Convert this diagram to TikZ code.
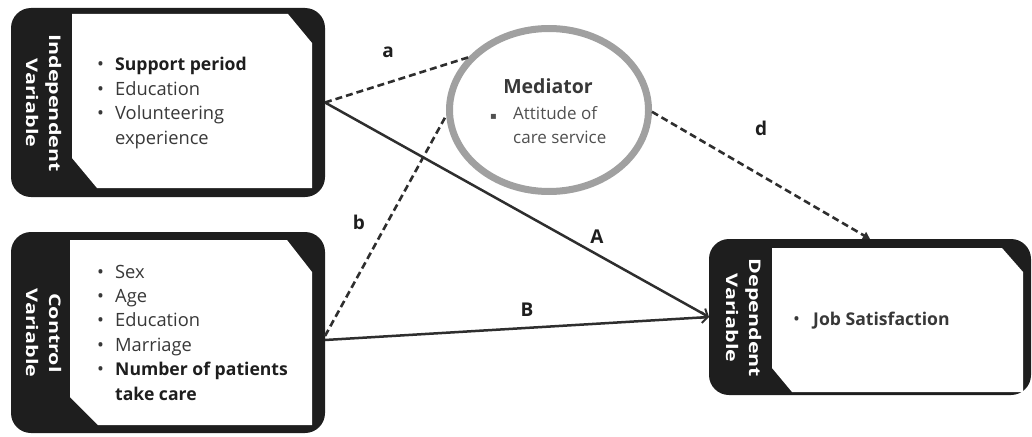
\documentclass[tikz,border=0pt]{standalone}
\usepackage{fontspec}
\setmainfont{Open Sans}
\newfontfamily\symfont{DejaVu Sans}
\usetikzlibrary{arrows.meta,shapes.geometric}
\definecolor{boxblack}{HTML}{1E1E1E}
\definecolor{txtgray}{HTML}{383838}
\definecolor{medgray}{HTML}{A0A0A0}
\definecolor{linegray}{HTML}{2E2E2E}
\definecolor{medtext}{HTML}{505050}
\begin{document}
\begin{tikzpicture}[x=1pt,y=-1pt,
  outerbox/.style={fill=boxblack, rounded corners=20pt, inner sep=0pt, outer sep=0pt},
  vartitle/.style={text=white, font=\bfseries\fontsize{16}{23}\selectfont, rotate=-90, align=center, inner sep=0pt},
  itemtext/.style={text=txtgray, font=\fontsize{18.3}{24.4}\selectfont, align=left, anchor=base west, inner sep=0pt},
  boldpart/.style={},
  pathlabel/.style={font=\bfseries\fontsize{19}{19}\selectfont, text=boxblack, inner sep=0pt},
  solidarrow/.style={draw=linegray, line width=2.5pt, -{Straight Barb[length=6pt,width=11pt,line width=2pt]}},
  dashline/.style={draw=linegray, line width=2.6pt, dash pattern=on 7pt off 4pt}]
\useasboundingbox (0,0) rectangle (1032,436);
% outer boxes
\node[outerbox, minimum width=314pt, minimum height=189pt] (ind) at (168,102.5) {};
\node[outerbox, minimum width=314pt, minimum height=201pt] (ctl) at (168,332.5) {};
\node[outerbox, minimum width=322pt, minimum height=156pt] (dep) at (870,317) {};
% inner white panels
\fill[white] (72,14) -- (288,14) -- (312,43) -- (312,188) -- (97,188) -- (72,158) -- cycle;
\fill[white] (70,240) -- (287,240) -- (312,272) -- (312,425) -- (98,425) -- (70,397) -- cycle;
\fill[white] (772,248) -- (1002,248) -- (1023,272) -- (1023,392) -- (792,392) -- (772,368) -- cycle;
% titles
\node[vartitle] (indt) at (43.5,103) {\scalebox{1.34}[1]{Independent}\\\scalebox{1.34}[1]{Variable}};
\node[vartitle] (ctlt) at (43.5,333) {\scalebox{1.34}[1]{Control}\\\scalebox{1.34}[1]{Variable}};
\node[vartitle] (dept) at (743.5,318) {\scalebox{1.34}[1]{Dependent}\\\scalebox{1.34}[1]{Variable}};
% item lists (anchor = baseline of last line)
\node[itemtext] (indi) at (97,144) {\makebox[18pt][l]{•}{\bfseries\fontsize{17.6}{24.4}\selectfont\color{boxblack}Support period}\\
\makebox[18pt][l]{•}Education\\
\makebox[18pt][l]{•}Volunteering\\
\hspace*{18pt}experience};
\node[itemtext] (ctli) at (97,400) {\makebox[18pt][l]{•}Sex\\
\makebox[18pt][l]{•}Age\\
\makebox[18pt][l]{•}Education\\
\makebox[18pt][l]{•}Marriage\\
\makebox[18pt][l]{•}{\bfseries\fontsize{17.6}{24.4}\selectfont\color{boxblack}Number of patients}\\
\hspace*{18pt}{\bfseries\fontsize{17.6}{24.4}\selectfont\color{boxblack}take care}};
\node[itemtext] (depi) at (793,325) {\makebox[20pt][l]{•}{\bfseries\fontsize{17.6}{24.4}\selectfont Job Satisfaction}};
% mediator
\node[draw=medgray, line width=7pt, ellipse, minimum width=199pt, minimum height=163pt, inner sep=0pt] (med) at (549,110) {};
\node[font=\bfseries\fontsize{19.5}{19.5}\selectfont, text=txtgray, inner sep=0pt] (medt) at (548,86) {Mediator};
\node[itemtext, text=medtext, font=\fontsize{17}{23.5}\selectfont] (medi) at (490,143) {\makebox[23pt][l]{\symfont\fontsize{10}{10}\selectfont ▪}Attitude of\\
\hspace*{23pt}care service};
% connectors
\draw[dashline] (ind.east) -- (med.147);
\draw[solidarrow] (ind.east) -- (dep.west);
\draw[dashline] ([yshift=-3.5pt]ctl.east) -- (med.183);
\draw[solidarrow] ([yshift=-7.5pt]ctl.east) -- (dep.west);
\draw[dashline, -{Triangle[length=7pt,width=8pt]}] (med.-1) -- (dep.north);
% labels
\node[pathlabel] (la) at (388,52) {a};
\node[pathlabel] (lb) at (359,222) {b};
\node[pathlabel] (lA) at (597,237) {A};
\node[pathlabel] (lB) at (527,310) {B};
\node[pathlabel] (ld) at (761,128) {d};
\end{tikzpicture}
\end{document}
